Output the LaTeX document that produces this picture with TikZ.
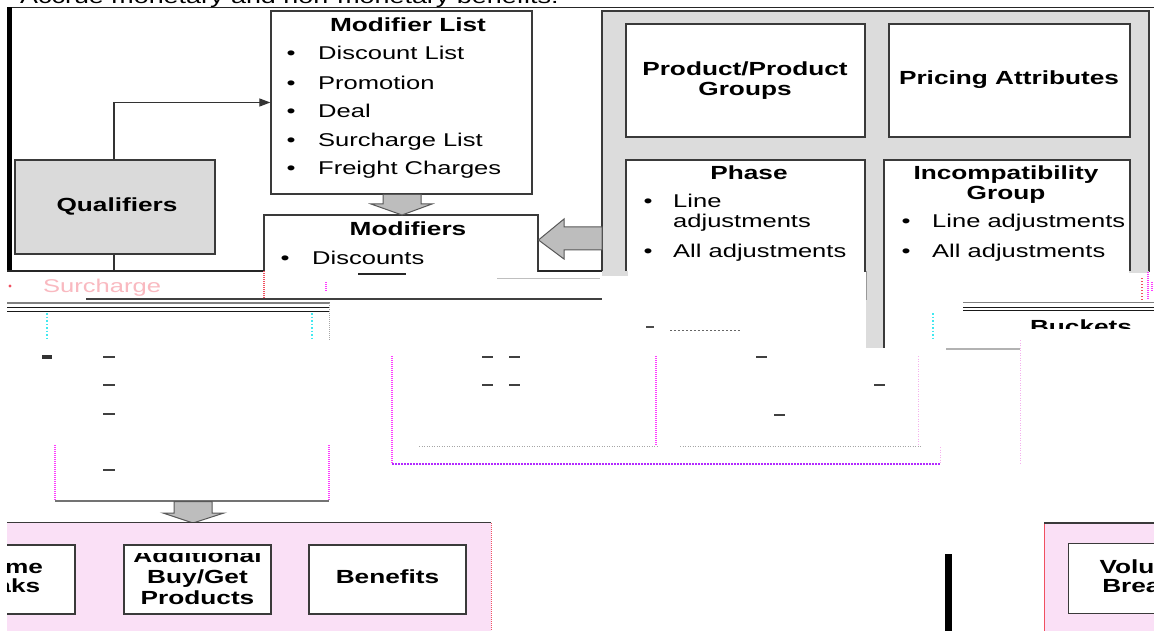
\documentclass[tikz,border=0pt]{standalone}
\usepackage{fontspec}
\setmainfont{Liberation Sans}[FakeStretch=1.38]
\usetikzlibrary{arrows.meta}
\definecolor{panelgray}{HTML}{DCDCDC}
\definecolor{qualgray}{HTML}{DADADA}
\definecolor{arrowgray}{HTML}{BDBDBD}
\definecolor{boxline}{HTML}{3A3A3A}
\definecolor{pinkpanel}{HTML}{FAE0F6}
\definecolor{glitchmag}{HTML}{FF3CFF}
\definecolor{glitchpink}{HTML}{F6B0EE}
\definecolor{glitchcyan}{HTML}{40E8F0}
\definecolor{glitchred}{HTML}{F05060}
\tikzset{
  box/.style={draw=boxline, line width=1.3, fill=white, inner sep=0},
  panel/.style={draw=boxline, line width=1.3, fill=panelgray, inner sep=0},
  btxt/.style={font=\fontsize{19}{21}\selectfont\bfseries, inner sep=0, anchor=base},
  rtxt/.style={font=\fontsize{18.5}{21}\selectfont, inner sep=0, anchor=base west},
  bul/.style={font=\fontsize{18.5}{21}\selectfont, inner sep=0, anchor=base},
  blockarrow/.style={draw=boxline!85, line width=1, fill=arrowgray},
  conn/.style={draw=black!80, line width=1.2},
  frameline/.style={draw=black!85, line width=1.3},
  magdot/.style={draw=glitchmag, line width=1.2, dash pattern=on 1pt off 1pt},
  pinkdot/.style={draw=glitchpink, line width=1, dash pattern=on 1pt off 1.5pt},
  cyandot/.style={draw=glitchcyan, line width=1.2, dash pattern=on 1.5pt off 2pt},
  frag/.style={draw=black!75, line width=1.6}
}
\begin{document}
\begin{tikzpicture}[x=1pt,y=-1pt]
\useasboundingbox (0,0) rectangle (1154,631);
\clip (0,0) rectangle (1154,631);
\fill[white] (0,0) rectangle (1154,631);

% title (only lower part visible)
\node[rtxt, font=\fontsize{19.5}{22}\selectfont] (title) at (20,4) {Accrue monetary and non-monetary benefits.};

% ---------------- top section, cut at y = 271
\begin{scope}
\clip (0,6) rectangle (1154,271);
\draw[frameline] (7,7.3) -- (1154,7.3);
\fill[black] (7,7) rectangle (11.5,271);

\node[panel, minimum width=547, minimum height=309] (panel) at (875.5,165.5) {};
\node[box, minimum width=239, minimum height=113] (prod) at (745.5,80.5) {};
\node[box, minimum width=241, minimum height=113] (price) at (1009.5,80.5) {};
\node[box, minimum width=239, minimum height=160] (phase) at (745.5,240) {};
\node[box, minimum width=246, minimum height=160] (incomp) at (1007,240) {};

\node[box, fill=qualgray, minimum width=200, minimum height=94] (qual) at (115,207) {};
\node[box, minimum width=261, minimum height=183] (modlist) at (401.5,102.5) {};
\node[box, minimum width=274, minimum height=105] (mods) at (401,267.5) {};

% texts
\node[btxt] (tql) at (117,212) {Qualifiers};
\node[btxt] (tml) at (408,32) {Modifier List};
\node[bul] (b1) at (291,60) {•}; \node[rtxt] (m1) at (318,60) {Discount List};
\node[bul] (b2) at (291,90) {•}; \node[rtxt] (m2) at (318,90) {Promotion};
\node[bul] (b3) at (291,118) {•}; \node[rtxt] (m3) at (318,118) {Deal};
\node[bul] (b4) at (291,147) {•}; \node[rtxt] (m4) at (318,147) {Surcharge List};
\node[bul] (b5) at (291,175) {•}; \node[rtxt] (m5) at (318,175) {Freight Charges};
\node[btxt] (tmd) at (408,236) {Modifiers};
\node[bul] (b6) at (285,265) {•}; \node[rtxt] (m6) at (312,265) {Discounts};

\node[btxt] (tp1) at (745,76) {Product/Product};
\node[btxt] (tp2) at (745,96) {Groups};
\node[btxt] (tpa) at (1009,85) {Pricing Attributes};
\node[btxt] (tph) at (749,180) {Phase};
\node[bul] (b7) at (648,208) {•}; \node[rtxt] (p1) at (673,208) {Line};
\node[rtxt] (p2) at (673,228) {adjustments};
\node[bul] (b8) at (648,258) {•}; \node[rtxt] (p3) at (673,258) {All adjustments};
\node[btxt] (ti1) at (1006,180) {Incompatibility};
\node[btxt] (ti2) at (1006,200) {Group};
\node[bul] (b9) at (906,228) {•}; \node[rtxt] (i1) at (932,228) {Line adjustments};
\node[bul] (b10) at (906,258) {•}; \node[rtxt] (i2) at (932,258) {All adjustments};

% connectors
\coordinate (qline) at (114,0);
\coordinate (cutA) at (0,272);
\draw[conn, -{Triangle[length=11,width=8]}] (qual.north -| qline) |- (modlist.west);
\draw[conn] (qual.south -| qline) -- (qline |- cutA);

% block arrows
\draw[blockarrow] (383,194.5) -- (421,194.5) -- (421,204) -- (432,204) -- (402,215) -- (371,204) -- (383,204) -- cycle;
\draw[blockarrow] (602,227) -- (564,227) -- (564,219) -- (538.5,240) -- (564,259) -- (564,250) -- (602,250) -- cycle;
\end{scope}

% ---------------- glitch band
\draw[frameline] (7,271) -- (264,271);
\draw[frameline] (538,271) -- (602,271);
\draw[draw=black!75, line width=1.2] (86,299) -- (602,299);
\draw[draw=black!50, line width=1.6] (7,303) -- (330,303);
\draw[draw=black!90, line width=1] (7,307.5) -- (330,307.5);
\draw[draw=black!90, line width=1] (7,311) -- (330,311);
\draw[draw=black!50, line width=1.6] (963,302.5) -- (1154,302.5);
\draw[draw=black!90, line width=1] (963,307) -- (1154,307);
\draw[draw=black!90, line width=1] (963,310.5) -- (1154,310.5);
\draw[draw=glitchred, line width=1.2, dash pattern=on 1pt off 1pt] (264,271) -- (264,299);
\draw[draw=black!85, line width=1.2] (358,274) -- (406,274);
\draw[draw=black!25, line width=1] (497,278.5) -- (600,278.5);
\fill[panelgray] (602,271) rectangle (628,276);
\fill[panelgray] (866,271) rectangle (884,348);
\draw[draw=boxline, line width=1.3] (884,271) -- (884,348);
\draw[draw=black!40, line width=0.8] (866,271) -- (866,300);
\fill[panelgray] (1129,271) rectangle (1149,273);
\draw[magdot] (1148,272) -- (1148,300);
\draw[draw=glitchred, line width=1.2, dash pattern=on 1pt off 2pt] (1142,278) -- (1142,300);

% faint fragments
\fill[glitchred] (10,286) circle (1.6);
\node[rtxt, text=glitchred!40] (fsur) at (43,292) {Surcharge};
\draw[magdot] (326,282) -- (326,292);
\draw[magdot] (1154-2,282) -- (1154-2,292);

% left lower box remnant
\draw[cyandot] (47,313) -- (47,341);
\draw[cyandot] (312,313) -- (312,341);
\draw[draw=black!35, line width=1, dash pattern=on 1pt off 1pt] (329,303) -- (329,341);
\foreach \yy in {357,385,414,470} \draw[frag] (103,\yy) -- (115,\yy);
\fill[black!80] (42,355) rectangle (52,359);
\draw[magdot] (55,445) -- (55,501);
\draw[magdot] (329,445) -- (329,501);
\draw[draw=black!55, line width=1.3] (55,501) -- (329,501);

% middle box remnant
\draw[magdot] (392,356) -- (392,464);
\draw[magdot] (656,356) -- (656,446);
\draw[pinkdot] (918,356) -- (918,446);
\draw[pinkdot] (940,447) -- (940,464);
\draw[draw=glitchmag!70!blue, line width=1.2, dash pattern=on 2pt off 1pt] (392,464) -- (940,464);
\draw[pinkdot, draw=black!35] (419,446) -- (657,446);
\draw[pinkdot, draw=black!35] (680,446) -- (922,446);
\foreach \xx/\yy in {482/357,509/357,482/385,509/385,756/357,874/385,774/415} \draw[frag] (\xx,\yy) -- (\xx+11,\yy);
\draw[draw=black!70, line width=1.3] (646,327) -- (654,327);
\draw[draw=black!60, line width=1, dash pattern=on 1.5pt off 2.5pt] (670,330) -- (740,330);

% right remnant
\draw[draw=black!30, line width=1.2] (946,349) -- (1020,349);
\draw[pinkdot] (1020,340) -- (1020,463);
\draw[cyandot] (933,313) -- (933,340);
\begin{scope}
\clip (1000,300) rectangle (1154,328);
\node[btxt] (tbk) at (1081,333.5) {Buckets};
\end{scope}

% ---------------- bottom section
\draw[blockarrow] (174,501.5) -- (212,501.5) -- (212,513) -- (224,513) -- (193,523) -- (163,513) -- (174,513) -- cycle;

\begin{scope}
\clip (7,515) rectangle (1154,631);
\node[draw=none, fill=pinkpanel, minimum width=520, minimum height=120, inner sep=0] (pinkL) at (231,583) {};
\draw[draw=boxline, line width=1.3] (pinkL.north west) -- (pinkL.north east);
\draw[draw=glitchred, line width=1.2, dash pattern=on 1pt off 1pt] (pinkL.north east) -- (pinkL.south east);
\node[box, minimum width=157, minimum height=69] (vol1) at (-3.5,579.5) {};
\node[box, minimum width=147, minimum height=69] (addl) at (197.5,579.5) {};
\node[box, minimum width=157, minimum height=69] (ben) at (387.5,579.5) {};
\node[btxt] (tv1a) at (-3.5,573) {Volume};
\node[btxt] (tv1b) at (-3.5,592) {Breaks};
\begin{scope}
\clip (124,553) rectangle (271,614);
\node[btxt] (ta1) at (197.5,562) {Additional};
\end{scope}
\node[btxt] (ta2) at (197.5,583) {Buy/Get};
\node[btxt] (ta3) at (197.5,604) {Products};
\node[btxt] (tbn) at (387.5,583) {Benefits};

\node[draw=glitchred, line width=1, fill=pinkpanel, minimum width=160, minimum height=120, inner sep=0, anchor=north west] (pinkR) at (1044,523) {};
\draw[draw=boxline, line width=1.3] (pinkR.north west) -- (pinkR.north east);
\node[box, minimum width=156, minimum height=70, anchor=north west] (vol2) at (1068,543) {};
\node[btxt] (tv2a) at (1146,573) {Volume};
\node[btxt] (tv2b) at (1146,592) {Breaks};
\end{scope}

\fill[black] (945,554) rectangle (952,631);
\end{tikzpicture}
\end{document}
